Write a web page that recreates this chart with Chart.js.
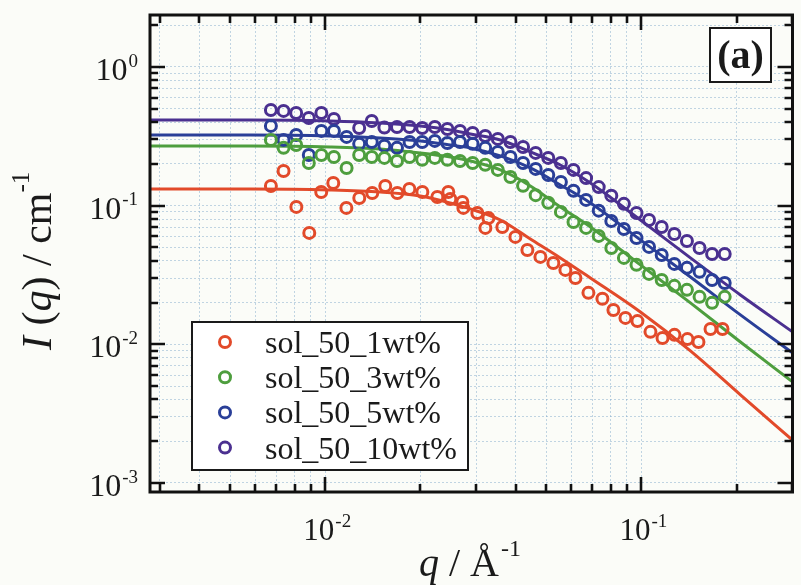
<!DOCTYPE html>
<html>
<head>
<meta charset="utf-8">
<script src="https://cdn.jsdelivr.net/npm/chart.js@4.4.1/dist/chart.umd.min.js"></script>
<style>
  html, body { margin: 0; padding: 0; background: #fbfcf8; }
  #wrap { width: 801px; height: 585px; position: relative; }
</style>
</head>
<body>
<div id="wrap"><canvas id="sansChart" width="801" height="585"></canvas></div>
<script>
// q values of the measured points (1/Angstrom), shared by 3, 5 and 10 wt%
const qPts = [0.00673, 0.00738, 0.00809, 0.00887, 0.00972, 0.01065, 0.01168, 0.01280, 0.01403,
  0.01538, 0.01686, 0.01848, 0.02026, 0.02221, 0.02434, 0.02668, 0.02925, 0.03206, 0.03514,
  0.03852, 0.04223, 0.04629, 0.05074, 0.05562, 0.06097, 0.06683, 0.07326, 0.08030, 0.08802,
  0.09647, 0.1057, 0.1159, 0.1271, 0.1393, 0.1527, 0.1673, 0.1834];

const i10wt = [0.490, 0.482, 0.466, 0.429, 0.466, 0.422, null, 0.363, 0.408, 0.366, 0.369, 0.369,
  0.363, 0.369, 0.357, 0.346, 0.334, 0.318, 0.303, 0.288, 0.265, 0.240, 0.221, 0.203, 0.181,
  0.158, 0.136, 0.118, 0.103, 0.0886, 0.0788, 0.0702, 0.0625, 0.0556, 0.0495, 0.0448, 0.0448];

const i5wt = [0.376, 0.298, 0.323, 0.232, 0.346, 0.346, 0.313, 0.279, 0.288, 0.270, 0.261, 0.288,
  0.288, 0.293, 0.283, 0.288, 0.279, 0.261, 0.244, 0.224, 0.203, 0.184, 0.1665, 0.148, 0.128,
  0.110, 0.092, 0.0775, 0.0679, 0.0585, 0.0504, 0.0441, 0.0380, 0.0356, 0.0333, 0.0291, 0.0277];

const i3wt = [0.298, 0.261, 0.274, 0.203, 0.232, 0.224, 0.187, 0.232, 0.224, 0.221, 0.210, 0.224,
  0.214, 0.221, 0.214, 0.210, 0.203, 0.197, 0.181, 0.161, 0.139, 0.119, 0.105, 0.0901, 0.0763,
  0.0691, 0.0605, 0.0495, 0.0420, 0.0374, 0.0322, 0.0291, 0.0264, 0.0247, 0.0220, 0.0199, 0.0220];

// 1 wt% was measured on its own q set
const q1wt = [0.00673, 0.00738, 0.00810, 0.00890, 0.00971, 0.01060, 0.01166, 0.01281, 0.01408,
  0.01548, 0.01690, 0.01845, 0.02028, 0.02262, 0.02450, 0.02486, 0.02714, 0.02734, 0.03027,
  0.03209, 0.03280, 0.03631, 0.03993, 0.04358, 0.04791, 0.05266, 0.05747, 0.06183, 0.06798,
  0.07526, 0.08155, 0.08901, 0.09712, 0.1068, 0.1166, 0.1272, 0.1398, 0.1515, 0.1654, 0.1805];
const i1wt = [0.1387, 0.1779, 0.0979, 0.0636, 0.1255, 0.1458, 0.0963, 0.1136, 0.1235, 0.1387,
  0.1235, 0.1320, 0.1255, 0.1155, 0.1255, 0.1117, 0.1063, 0.0963, 0.0886, 0.0691, 0.0815,
  0.0702, 0.0595, 0.0479, 0.0427, 0.0386, 0.0344, 0.0301, 0.0235, 0.0213, 0.0177, 0.0155,
  0.0147, 0.0123, 0.0111, 0.0117, 0.0109, 0.0104, 0.0129, 0.0129];

// fitted curves
const qFit = [0.00279, 0.00579, 0.01037, 0.01493, 0.01998, 0.02486, 0.02876, 0.03580, 0.04453,
  0.05541, 0.06897, 0.09927, 0.1429, 0.2057, 0.3005];
const fit1wt = [0.1320, 0.1320, 0.1298, 0.1255, 0.1175, 0.1046, 0.0947, 0.0788, 0.0575, 0.0420,
  0.0301, 0.0171, 0.00896, 0.00432, 0.00204];
const fit3wt = [0.2695, 0.2695, 0.2651, 0.2563, 0.2399, 0.2244, 0.2101, 0.1809, 0.1387, 0.0979,
  0.0702, 0.0374, 0.0199, 0.0104, 0.00536];
const fit5wt = [0.3234, 0.3234, 0.3181, 0.3077, 0.2928, 0.2741, 0.2606, 0.2282, 0.1870, 0.1410,
  0.1046, 0.0566, 0.0306, 0.0163, 0.00867];
const fit10wt = [0.4149, 0.4149, 0.4081, 0.3947, 0.3755, 0.3514, 0.3288, 0.2977, 0.2439, 0.1965,
  0.1458, 0.0788, 0.0420, 0.0227, 0.0123];

const seriesNames = ['sol_50_1wt%', 'sol_50_3wt%', 'sol_50_5wt%', 'sol_50_10wt%'];
const seriesColors = ['#e24a2a', '#4e9e3e', '#2a3f98', '#4b3090'];

const xTickVals = [0.003, 0.004, 0.005, 0.006, 0.007, 0.008, 0.009, 0.01, 0.02, 0.03, 0.04,
  0.05, 0.06, 0.07, 0.08, 0.09, 0.1, 0.2, 0.3];
const yTickVals = [0.001, 0.002, 0.003, 0.004, 0.005, 0.006, 0.007, 0.008, 0.009,
  0.01, 0.02, 0.03, 0.04, 0.05, 0.06, 0.07, 0.08, 0.09,
  0.1, 0.2, 0.3, 0.4, 0.5, 0.6, 0.7, 0.8, 0.9, 1, 2];
const xLabelVals = [0.01, 0.1];
const yLabelVals = [1, 0.1, 0.01, 0.001];

const SERIF = '"Liberation Serif", "Times New Roman", serif';

function pairs(qs, is) {
  return qs.map((q, k) => ({ x: q, y: is[k] })).filter(p => p.y !== null);
}

const pointSets = [pairs(q1wt, i1wt), pairs(qPts, i3wt), pairs(qPts, i5wt), pairs(qPts, i10wt)];
const fitSets = [fit1wt, fit3wt, fit5wt, fit10wt].map(f => pairs(qFit, f));

const datasets = [];
fitSets.forEach((d, k) => {
  datasets.push({
    type: 'line', label: seriesNames[k] + ' fit', data: d,
    borderColor: seriesColors[k], borderWidth: 3, pointRadius: 0,
    cubicInterpolationMode: 'monotone', fill: false, order: 2
  });
});
pointSets.forEach((d, k) => {
  datasets.push({
    type: 'scatter', label: seriesNames[k], data: d,
    borderColor: seriesColors[k], backgroundColor: 'rgba(0,0,0,0)',
    borderWidth: 3, pointRadius: 5.5, pointHoverRadius: 5.5, order: 1
  });
});

function isDecade(v) {
  const l = Math.log10(v);
  return Math.abs(l - Math.round(l)) < 1e-6;
}

// "10" with a raised exponent
function drawPower(ctx, x, y, exp, align, size, supSize) {
  ctx.font = size + 'px ' + SERIF;
  const wBase = ctx.measureText('10').width;
  ctx.font = supSize + 'px ' + SERIF;
  const wExp = ctx.measureText(exp).width;
  const total = wBase + wExp + 1;
  let x0 = align === 'right' ? x - total : x - total / 2;
  ctx.textAlign = 'left';
  ctx.textBaseline = 'alphabetic';
  ctx.font = size + 'px ' + SERIF;
  ctx.fillText('10', x0, y);
  ctx.font = supSize + 'px ' + SERIF;
  ctx.fillText(exp, x0 + wBase + 1, y - size * 0.42);
}

const framePlugin = {
  id: 'frame',
  afterDatasetsDraw(chart) {
    const { ctx, chartArea: a, scales } = chart;
    ctx.save();
    ctx.strokeStyle = '#111';
    ctx.lineWidth = 2.6;
    ctx.lineCap = 'butt';
    ctx.beginPath();
    xTickVals.forEach(v => {
      const px = Math.round(scales.x.getPixelForValue(v));
      const len = isDecade(v) ? 15 : 8;
      ctx.moveTo(px, a.bottom); ctx.lineTo(px, a.bottom - len);
      ctx.moveTo(px, a.top); ctx.lineTo(px, a.top + len);
    });
    yTickVals.forEach(v => {
      const py = Math.round(scales.y.getPixelForValue(v));
      const len = isDecade(v) ? 15 : 8;
      ctx.moveTo(a.left, py); ctx.lineTo(a.left + len, py);
      ctx.moveTo(a.right, py); ctx.lineTo(a.right - len, py);
    });
    ctx.stroke();
    ctx.lineWidth = 3;
    ctx.strokeRect(a.left, a.top, a.right - a.left, a.bottom - a.top);
    ctx.restore();
  },
  afterDraw(chart) {
    const { ctx, chartArea: a, scales } = chart;
    ctx.save();
    ctx.fillStyle = '#1a1a1a';

    // tick labels
    xLabelVals.forEach(v => {
      const px = scales.x.getPixelForValue(v);
      drawPower(ctx, px + 2, a.bottom + 48, String(Math.round(Math.log10(v))), 'center', 31, 19);
    });
    yLabelVals.forEach(v => {
      const py = scales.y.getPixelForValue(v);
      drawPower(ctx, 138, py + 13, String(Math.round(Math.log10(v))), 'right', 32, 19);
    });

    // x title: q / Å^-1
    ctx.textBaseline = 'alphabetic';
    ctx.textAlign = 'left';
    let x = 419, y = 576;
    ctx.font = 'italic 40px ' + SERIF;
    ctx.fillText('q', x, y); x += ctx.measureText('q').width;
    ctx.font = '40px ' + SERIF;
    ctx.fillText(' / Å', x, y); x += ctx.measureText(' / Å').width + 2;
    ctx.font = '24px ' + SERIF;
    ctx.fillText('-1', x, y - 20);

    // y title: I (q) / cm^-1, rotated
    ctx.save();
    ctx.translate(51, 350);
    ctx.rotate(-Math.PI / 2);
    x = 0;
    const parts = [['italic 42px ', 'I', 0], ['42px ', ' (', 0], ['italic 42px ', 'q', 0],
      ['42px ', ') / cm', 0], ['25px ', '-1', -22]];
    parts.forEach(([f, t, dy]) => {
      ctx.font = f + SERIF;
      ctx.fillText(t, x, dy);
      x += ctx.measureText(t).width;
    });
    ctx.restore();

    // legend box
    const lx = 192, ly = 322, lw = 276, lh = 148;
    ctx.fillStyle = '#ffffff';
    ctx.fillRect(lx, ly, lw, lh);
    ctx.strokeStyle = '#1a1a1a';
    ctx.lineWidth = 2;
    ctx.strokeRect(lx, ly, lw, lh);
    seriesNames.forEach((name, k) => {
      const cy = 342 + k * 35.2;
      ctx.beginPath();
      ctx.arc(225, cy, 5.5, 0, Math.PI * 2);
      ctx.strokeStyle = seriesColors[k];
      ctx.lineWidth = 3;
      ctx.stroke();
      ctx.fillStyle = '#1a1a1a';
      ctx.font = '32px ' + SERIF;
      ctx.textAlign = 'left';
      ctx.textBaseline = 'alphabetic';
      ctx.fillText(name, 265, cy + 11);
    });

    // panel label
    ctx.fillStyle = '#ffffff';
    ctx.fillRect(710, 28, 61, 54);
    ctx.strokeStyle = '#1a1a1a';
    ctx.lineWidth = 2;
    ctx.strokeRect(710, 28, 61, 54);
    ctx.fillStyle = '#1a1a1a';
    ctx.font = 'bold 40px ' + SERIF;
    ctx.textAlign = 'center';
    ctx.fillText('(a)', 740.5, 68);
    ctx.restore();
  }
};

const gridOpts = { color: 'rgba(120,165,200,0.45)', lineWidth: 1, drawTicks: false, tickLength: 0 };

new Chart(document.getElementById('sansChart'), {
  type: 'scatter',
  data: { datasets: datasets },
  options: {
    responsive: false,
    animation: false,
    events: [],
    layout: { padding: { left: 150, right: 8, top: 15, bottom: 93 } },
    plugins: { legend: { display: false }, tooltip: { enabled: false } },
    scales: {
      x: {
        type: 'logarithmic', min: 0.00279, max: 0.3005,
        ticks: { display: false, autoSkip: false },
        grid: gridOpts,
        border: { display: false, dash: [2, 2] },
        afterBuildTicks: s => { s.ticks = xTickVals.map(v => ({ value: v })); }
      },
      y: {
        type: 'logarithmic', min: 0.000861, max: 2.37,
        ticks: { display: false, autoSkip: false },
        grid: gridOpts,
        border: { display: false, dash: [2, 2] },
        afterBuildTicks: s => { s.ticks = yTickVals.map(v => ({ value: v })); }
      }
    }
  },
  plugins: [framePlugin]
});
</script>
</body>
</html>
